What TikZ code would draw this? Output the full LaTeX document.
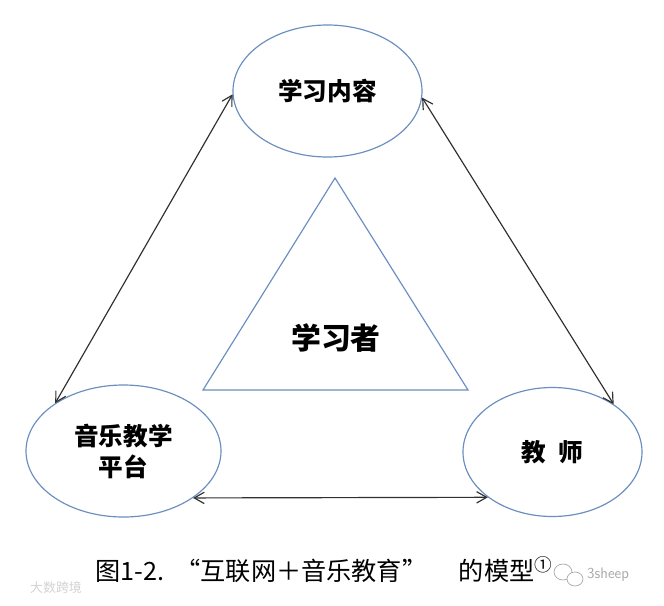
\documentclass[tikz,border=0pt]{standalone}
\usepackage{fontspec}
\usetikzlibrary{arrows.meta,shapes.geometric}
\newfontfamily\cjk{Noto Sans CJK SC}
\definecolor{ringblue}{HTML}{6A8EBD}
\definecolor{linkgray}{HTML}{303030}
\definecolor{markgray}{HTML}{A8A8A8}
\tikzset{
  topic/.style={ellipse,draw=ringblue,line width=1pt,inner sep=0pt,align=center,
    font=\cjk\bfseries\fontsize{21pt}{26.5pt}\selectfont},
  link/.style={{Straight Barb[length=3mm,width=3.4mm]}-{Straight Barb[length=3mm,width=3.4mm]},
    line width=1pt,draw=linkgray},
  side/.style={draw=ringblue,line width=1pt,line join=miter}
}
\begin{document}
\begin{tikzpicture}[x=0.03cm,y=-0.03cm]
\useasboundingbox (0,0) rectangle (664,605);
% three corners
\node[topic,minimum width=5.67cm,minimum height=3.96cm] (content) at (327.5,91) {学习内容};
\node[topic,minimum width=5.85cm,minimum height=3.96cm] (platform) at (123.5,451) {音乐教学\\平台};
\node[topic,minimum width=5.37cm,minimum height=3.87cm] (teacher) at (552.5,452) {教\hspace{0.5em}师};
% learner in the middle
\coordinate (apex) at (335,178);
\coordinate (baseR) at (468,390);
\coordinate (baseL) at (203,390);
\draw[side] (apex) -- (baseR) -- (baseL) -- cycle;
\node[font=\cjk\bfseries\fontsize{25.5pt}{25.5pt}\selectfont] (learner) at (336,338) {学习者};
% links
\draw[link] (platform.145) -- (content.182);
\draw[link] (content.-4) -- (teacher.38);
\draw[link] (platform.-34.5) -- (teacher.215);
% caption
\node[anchor=west,inner sep=0pt,font=\cjk\fontsize{21.5pt}{21.5pt}\selectfont] (caption) at (95,570)
  {图1-2.\hspace{0.45em}“互联网＋音乐教育”\hspace{1.25em}的模型\textsuperscript{①}};
% watermarks
\draw[markgray,line width=0.6pt] (563,572) ellipse (9 and 8);
\draw[markgray,line width=0.6pt,fill=white] (575,579) ellipse (8 and 7);
\node[anchor=west,inner sep=0pt,text=markgray,font=\sffamily\fontsize{13pt}{13pt}\selectfont] (sheep) at (587,575) {3sheep};
\node[inner sep=0pt,text=gray!35,font=\cjk\fontsize{11pt}{11pt}\selectfont] (site) at (56,588) {大数跨境};
\end{tikzpicture}
\end{document}
